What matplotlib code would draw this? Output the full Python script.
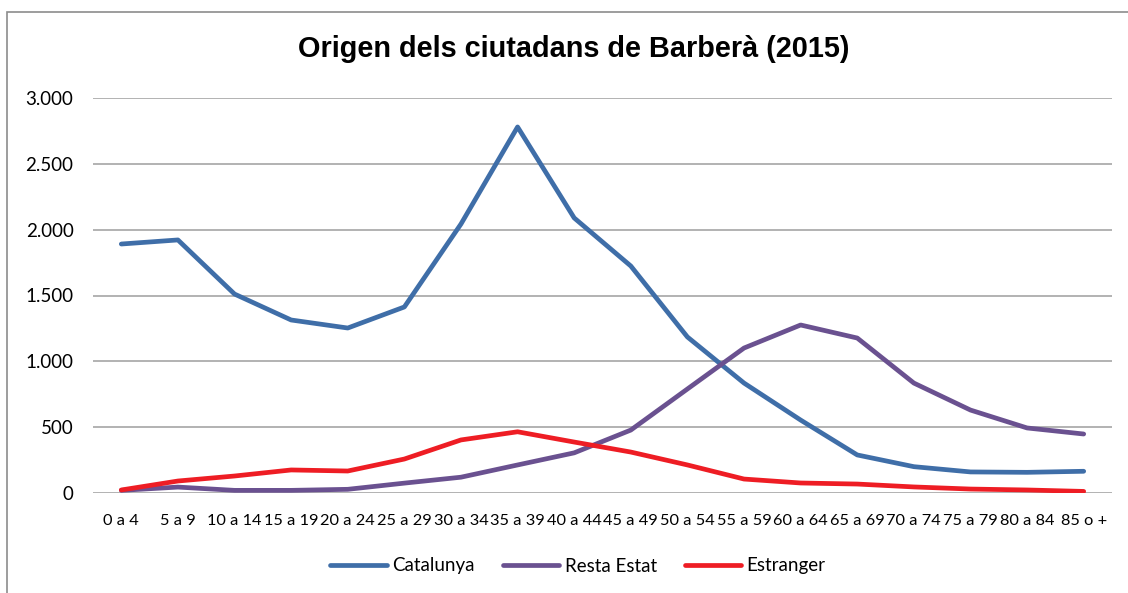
import matplotlib.pyplot as plt
import matplotlib.ticker as mticker
from matplotlib.patches import Rectangle

# Age groups and population by origin
groups = ['0 a 4', '5 a 9', '10 a 14', '15 a 19', '20 a 24', '25 a 29', '30 a 34',
          '35 a 39', '40 a 44', '45 a 49', '50 a 54', '55 a 59', '60 a 64', '65 a 69',
          '70 a 74', '75 a 79', '80 a 84', '85 o +']
catalunya = [1891, 1922, 1511, 1314, 1253, 1413, 2043, 2780, 2089, 1724,
             1185, 835, 554, 289, 200, 160, 157, 165]
resta_estat = [20, 45, 20, 20, 28, 75, 120, 213, 305, 478,
               790, 1101, 1276, 1177, 835, 630, 494, 448]
estranger = [23, 91, 129, 175, 167, 258, 403, 465, 387, 311,
             213, 106, 76, 68, 46, 30, 23, 12]

plt.rcParams['font.family'] = ['Lato', 'DejaVu Sans']

fig = plt.figure(figsize=(11.28, 5.93), dpi=100)
ax = fig.add_axes([93 / 1128, 1 - 493 / 593, 1019 / 1128, 395 / 593])

# chart border
fig.patches.append(Rectangle((7 / 1128, -0.1), 1.2, 1 - 12 / 593 + 0.1,
                             transform=fig.transFigure, fill=False,
                             edgecolor='#8C8C8C', linewidth=1.2))

x = range(len(groups))
ax.plot(x, catalunya, color='#3F6EA8', lw=3.4, solid_capstyle='round', label='Catalunya')
ax.plot(x, resta_estat, color='#6A5190', lw=3.4, solid_capstyle='round', label='Resta Estat')
ax.plot(x, estranger, color='#EE1D24', lw=3.4, solid_capstyle='round', label='Estranger')

ax.set_xlim(-0.5, len(groups) - 0.5)
ax.set_ylim(0, 3000)
ax.set_xticks(list(x))
ax.set_xticklabels(groups, fontsize=11.8)
ax.yaxis.set_major_locator(mticker.MultipleLocator(500))
ax.yaxis.set_major_formatter(mticker.FuncFormatter(lambda v, p: f'{int(v):,}'.replace(',', '.')))
ax.tick_params(axis='y', labelsize=13.5, length=0, pad=14)
ax.tick_params(axis='x', length=0, pad=15)
ax.grid(axis='y', color='#A6A6A6', lw=1.2)
ax.set_axisbelow(True)
for s in ax.spines.values():
    s.set_visible(False)

fig.text(574 / 1128, 1 - 49 / 593, 'Origen dels ciutadans de Barberà (2015)',
         ha='center', va='center', fontsize=20.8, fontweight='bold',
         family='Liberation Sans')

fig.legend(loc='center', bbox_to_anchor=(578 / 1128, 1 - 566 / 593), ncol=3,
           frameon=False, fontsize=13.5, handlelength=3.0, columnspacing=1.5,
           handletextpad=0.3)

plt.savefig('out.png', dpi=100)
